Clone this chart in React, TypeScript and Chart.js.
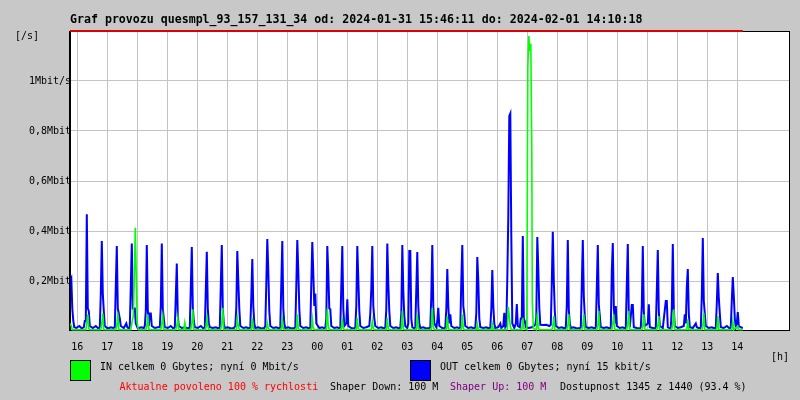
import React, { useEffect, useRef } from 'react';
import { Chart, registerables } from 'chart.js';

Chart.register(...registerables);

// ---------- text ----------
const titleText = 'Graf provozu quesmpl_93_157_131_34 od: 2024-01-31 15:46:11 do: 2024-02-01 14:10:18';
const yUnitLabel = '[/s]';
const xUnitLabel = '[h]';
const inLegendText = 'IN celkem 0 Gbytes; nyní 0 Mbit/s';
const outLegendText = 'OUT celkem 0 Gbytes; nyní 15 kbit/s';
const statusTexts = ['Aktualne povoleno 100 % rychlosti', 'Shaper Down: 100 M', 'Shaper Up: 100 M', 'Dostupnost 1345 z 1440 (93.4 %)'];

// ---------- axes ----------
// x values are minutes since 16:00 (2024-01-31)
const hourLabels = ['16', '17', '18', '19', '20', '21', '22', '23', '00', '01', '02', '03', '04', '05', '06', '07', '08', '09', '10', '11', '12', '13', '14'];
const hourTickMinutes = hourLabels.map((_, i) => i * 60);
const xMinMinute = -14.6;
const xMaxMinute = 1425.4;
const yTickValues = [0, 0.2, 0.4, 0.6, 0.8, 1.0, 1.2];
const yTickLabels = ['', '0,2Mbit', '0,4Mbit', '0,6Mbit', '0,8Mbit', '1Mbit/s', ''];
const yMaxMbit = 1.2;

// ---------- data (minute, Mbit/s) ----------
const outSamples: [number, number][] = [
  [-14, 0.2], [-12, 0.21], [-10, 0.09], [-8, 0.04], [-6, 0.015], [-2, 0.012], [4, 0.02], [9, 0.01], [13, 0.015],
  [15, 0.04], [17, 0.04], [19, 0.467], [21, 0.09], [23, 0.08], [25, 0.02], [31, 0.012], [37, 0.02], [42, 0.01],
  [45, 0.015], [47, 0.15], [49, 0.36], [51, 0.15], [53, 0.08], [55, 0.02], [61, 0.01], [67, 0.015], [72, 0.012],
  [75, 0.015], [77, 0.18], [79, 0.34], [81, 0.09], [83, 0.07], [85, 0.05], [87, 0.02], [93, 0.012], [98, 0.03], [100, 0.015], [103, 0.01],
  [105, 0.02], [107, 0.18], [109, 0.35], [111, 0.09], [113, 0.09], [115, 0.09], [117, 0.03], [121, 0.01], [127, 0.015], [133, 0.012],
  [135, 0.02], [137, 0.08], [139, 0.344], [141, 0.087], [143, 0.02], [145, 0.07], [147, 0.07], [149, 0.02], [155, 0.012], [161, 0.015],
  [165, 0.015], [167, 0.1], [169, 0.35], [171, 0.09], [173, 0.05], [175, 0.015], [181, 0.012], [187, 0.02], [192, 0.01],
  [195, 0.015], [197, 0.14], [199, 0.27], [201, 0.06], [203, 0.02], [209, 0.012], [215, 0.015], [222, 0.01],
  [225, 0.015], [227, 0.176], [229, 0.336], [231, 0.093], [233, 0.04], [235, 0.015], [241, 0.012], [247, 0.02], [252, 0.01],
  [255, 0.015], [257, 0.164], [259, 0.317], [261, 0.09], [263, 0.03], [265, 0.015], [271, 0.012], [277, 0.015], [283, 0.01],
  [285, 0.015], [287, 0.184], [289, 0.344], [291, 0.09], [293, 0.03], [295, 0.012], [301, 0.015], [307, 0.01], [313, 0.012],
  [316, 0.02], [318, 0.093], [320, 0.32], [322, 0.2], [324, 0.09], [326, 0.02], [332, 0.012], [338, 0.015], [344, 0.01],
  [346, 0.015], [348, 0.136], [350, 0.288], [352, 0.1], [354, 0.03], [356, 0.012], [362, 0.015], [368, 0.01], [374, 0.012],
  [376, 0.02], [378, 0.19], [380, 0.368], [382, 0.24], [384, 0.08], [386, 0.02], [392, 0.012], [398, 0.015], [404, 0.01],
  [406, 0.015], [408, 0.19], [410, 0.36], [412, 0.09], [414, 0.03], [416, 0.012], [422, 0.015], [428, 0.01], [434, 0.012],
  [436, 0.015], [438, 0.18], [440, 0.364], [442, 0.24], [444, 0.09], [446, 0.02], [452, 0.012], [458, 0.015], [464, 0.01],
  [466, 0.015], [468, 0.19], [470, 0.356], [472, 0.23], [474, 0.1], [476, 0.15], [478, 0.03], [484, 0.012], [490, 0.015], [494, 0.01],
  [496, 0.015], [498, 0.05], [500, 0.34], [502, 0.23], [504, 0.09], [506, 0.087], [508, 0.02], [514, 0.012], [520, 0.015], [524, 0.01],
  [526, 0.015], [528, 0.18], [530, 0.34], [532, 0.09], [534, 0.02], [538, 0.03], [540, 0.127], [542, 0.02], [548, 0.012], [554, 0.01],
  [556, 0.015], [558, 0.1], [560, 0.34], [562, 0.21], [564, 0.08], [566, 0.02], [572, 0.012], [578, 0.015], [584, 0.02], [586, 0.07],
  [588, 0.17], [590, 0.34], [592, 0.1], [594, 0.05], [596, 0.02], [602, 0.012], [608, 0.015], [614, 0.01],
  [616, 0.015], [618, 0.087], [620, 0.35], [622, 0.19], [624, 0.08], [626, 0.02], [632, 0.012], [638, 0.015], [644, 0.01],
  [646, 0.015], [648, 0.07], [650, 0.344], [652, 0.16], [654, 0.06], [656, 0.02], [660, 0.012], [662, 0.03], [664, 0.32], [666, 0.32], [668, 0.05], [670, 0.015], [674, 0.01],
  [676, 0.015], [678, 0.167], [680, 0.316], [682, 0.1], [684, 0.03], [686, 0.012], [692, 0.015], [698, 0.01], [704, 0.012],
  [706, 0.015], [708, 0.14], [710, 0.344], [712, 0.1], [714, 0.03], [718, 0.015], [720, 0.04], [722, 0.093], [724, 0.02], [730, 0.012], [734, 0.01],
  [736, 0.015], [738, 0.087], [740, 0.248], [742, 0.1], [744, 0.03], [746, 0.067], [748, 0.02], [754, 0.012], [760, 0.015], [764, 0.01],
  [766, 0.015], [768, 0.2], [770, 0.344], [772, 0.1], [774, 0.067], [776, 0.02], [782, 0.012], [788, 0.015], [794, 0.01],
  [796, 0.015], [798, 0.07], [800, 0.296], [802, 0.2], [804, 0.05], [806, 0.015], [812, 0.012], [818, 0.015], [824, 0.01],
  [826, 0.015], [828, 0.087], [830, 0.244], [832, 0.1], [834, 0.03], [836, 0.012], [842, 0.015], [846, 0.03], [848, 0.012], [852, 0.02], [854, 0.073], [856, 0.015],
  [858, 0.02], [860, 0.21], [862, 0.46], [864, 0.86], [866, 0.87], [868, 0.38], [870, 0.03], [874, 0.012], [877, 0.03], [879, 0.108], [881, 0.02],
  [885, 0.015], [887, 0.05], [889, 0.05], [891, 0.38], [893, 0.05], [895, 0.04], [897, 0.015], [903, 0.012], [909, 0.015], [913, 0.02],
  [916, 0.025], [918, 0.05], [920, 0.376], [922, 0.247], [924, 0.093], [926, 0.025], [932, 0.024], [938, 0.025], [944, 0.02],
  [947, 0.025], [949, 0.193], [951, 0.397], [953, 0.2], [955, 0.08], [957, 0.02], [963, 0.012], [969, 0.015], [975, 0.01],
  [977, 0.015], [979, 0.104], [981, 0.364], [983, 0.087], [985, 0.03], [987, 0.012], [993, 0.015], [999, 0.01], [1005, 0.012],
  [1007, 0.015], [1009, 0.184], [1011, 0.364], [1013, 0.14], [1015, 0.06], [1017, 0.015], [1023, 0.012], [1029, 0.015], [1035, 0.01],
  [1037, 0.015], [1039, 0.173], [1041, 0.344], [1043, 0.107], [1045, 0.06], [1047, 0.015], [1053, 0.012], [1059, 0.015], [1065, 0.01],
  [1067, 0.015], [1069, 0.24], [1071, 0.352], [1073, 0.1], [1075, 0.03], [1077, 0.1], [1079, 0.02], [1085, 0.012], [1091, 0.015], [1095, 0.01],
  [1097, 0.015], [1099, 0.187], [1101, 0.348], [1103, 0.067], [1105, 0.015], [1109, 0.104], [1111, 0.104], [1113, 0.015], [1119, 0.012], [1125, 0.01],
  [1127, 0.015], [1129, 0.1], [1131, 0.34], [1133, 0.08], [1135, 0.02], [1141, 0.03], [1143, 0.107], [1145, 0.015], [1151, 0.012], [1155, 0.01],
  [1157, 0.015], [1159, 0.16], [1161, 0.324], [1163, 0.08], [1165, 0.02], [1171, 0.012], [1177, 0.12], [1179, 0.12], [1181, 0.015], [1185, 0.01],
  [1187, 0.015], [1189, 0.09], [1191, 0.348], [1193, 0.087], [1195, 0.02], [1201, 0.012], [1207, 0.015], [1213, 0.02], [1215, 0.067],
  [1217, 0.03], [1219, 0.176], [1221, 0.248], [1223, 0.07], [1225, 0.015], [1231, 0.012], [1237, 0.03], [1239, 0.015], [1245, 0.01],
  [1247, 0.015], [1249, 0.14], [1251, 0.372], [1253, 0.12], [1255, 0.07], [1257, 0.02], [1263, 0.012], [1269, 0.015], [1275, 0.01],
  [1277, 0.015], [1279, 0.11], [1281, 0.232], [1283, 0.133], [1285, 0.07], [1287, 0.015], [1293, 0.012], [1299, 0.02], [1305, 0.01],
  [1307, 0.015], [1309, 0.12], [1311, 0.216], [1313, 0.14], [1315, 0.05], [1317, 0.015], [1319, 0.03], [1321, 0.076], [1323, 0.02], [1327, 0.015], [1331, 0.012],
];

const inSamples: [number, number][] = [
  [-14, 0.03], [-12, 0.02], [-10, 0.005],
  [17, 0.005], [19, 0.03], [21, 0.067], [23, 0.01], [25, 0.005],
  [47, 0.005], [49, 0.03], [51, 0.07], [53, 0.005],
  [77, 0.005], [79, 0.02], [81, 0.073], [83, 0.005],
  [107, 0.005], [109, 0.03], [112, 0.06], [114, 0.21], [116, 0.413], [118, 0.21], [120, 0.03], [122, 0.005],
  [137, 0.005], [139, 0.02], [141, 0.067], [143, 0.005],
  [167, 0.005], [169, 0.03], [171, 0.06], [173, 0.005],
  [197, 0.005], [199, 0.02], [201, 0.053], [203, 0.005], [213, 0.005], [215, 0.033], [217, 0.005],
  [227, 0.005], [229, 0.03], [231, 0.087], [233, 0.005],
  [257, 0.005], [259, 0.053], [261, 0.02], [263, 0.005],
  [287, 0.005], [289, 0.03], [291, 0.093], [293, 0.005],
  [318, 0.005], [320, 0.053], [322, 0.02], [324, 0.005],
  [348, 0.005], [350, 0.053], [352, 0.01], [354, 0.005],
  [378, 0.005], [380, 0.033], [382, 0.01], [384, 0.005],
  [408, 0.005], [410, 0.047], [412, 0.01], [414, 0.005],
  [438, 0.005], [440, 0.067], [442, 0.01], [444, 0.005],
  [468, 0.005], [470, 0.047], [472, 0.01], [474, 0.005],
  [498, 0.005], [500, 0.09], [502, 0.02], [504, 0.005],
  [528, 0.005], [530, 0.053], [532, 0.01], [534, 0.005],
  [558, 0.005], [560, 0.053], [562, 0.01], [564, 0.005],
  [588, 0.005], [590, 0.04], [592, 0.01], [594, 0.005],
  [618, 0.005], [620, 0.053], [622, 0.01], [624, 0.005],
  [648, 0.005], [650, 0.08], [652, 0.01], [654, 0.005],
  [678, 0.005], [680, 0.067], [682, 0.01], [684, 0.005],
  [708, 0.005], [710, 0.093], [712, 0.02], [714, 0.005],
  [738, 0.005], [740, 0.06], [742, 0.01], [744, 0.005],
  [768, 0.005], [770, 0.067], [772, 0.01], [774, 0.005],
  [798, 0.005], [800, 0.027], [802, 0.005],
  [828, 0.005], [830, 0.027], [832, 0.005],
  [860, 0.005], [862, 0.096], [864, 0.06], [866, 0.02], [868, 0.005],
  [889, 0.005], [891, 0.053], [893, 0.01], [899, 0.005], [901, 1.05], [903, 1.18], [905, 1.12], [907, 1.15], [909, 0.72], [910, 0.12], [912, 0.01],
  [918, 0.005], [920, 0.073], [922, 0.01], [924, 0.005],
  [949, 0.005], [951, 0.02], [953, 0.06], [955, 0.005],
  [979, 0.005], [981, 0.02], [983, 0.067], [985, 0.005],
  [1009, 0.005], [1011, 0.02], [1013, 0.067], [1015, 0.005],
  [1039, 0.005], [1041, 0.02], [1043, 0.08], [1045, 0.005],
  [1069, 0.005], [1071, 0.03], [1073, 0.067], [1075, 0.005],
  [1099, 0.005], [1101, 0.03], [1103, 0.08], [1105, 0.005],
  [1129, 0.005], [1131, 0.02], [1133, 0.067], [1135, 0.005],
  [1159, 0.005], [1161, 0.02], [1163, 0.06], [1165, 0.005],
  [1189, 0.005], [1191, 0.03], [1193, 0.087], [1195, 0.005],
  [1219, 0.005], [1221, 0.047], [1223, 0.005],
  [1249, 0.005], [1251, 0.02], [1253, 0.073], [1255, 0.005],
  [1279, 0.005], [1281, 0.06], [1283, 0.005],
  [1309, 0.005], [1311, 0.04], [1313, 0.005], [1321, 0.02], [1323, 0.005], [1331, 0.005],
];

// allowed-speed line (clamped to the top of the scale)
const limitSamples: [number, number][] = [[-14.6, 1.2], [1331, 1.2]];

const MONO = '"DejaVu Sans Mono", "Liberation Mono", monospace';

const decorPlugin = {
  id: 'mrtgDecor',
  beforeDraw(chart: any) {
    const { ctx, chartArea: a, width, height } = chart;
    ctx.save();
    ctx.fillStyle = '#c8c8c8';
    ctx.fillRect(0, 0, width, height);
    ctx.fillStyle = '#ffffff';
    ctx.fillRect(a.left, a.top, a.right - a.left, a.bottom - a.top);
    ctx.restore();
  },
  beforeDatasetsDraw(chart: any) {
    const { ctx, chartArea: a } = chart;
    ctx.save();
    ctx.strokeStyle = '#000000';
    ctx.lineWidth = 1;
    ctx.beginPath();
    ctx.moveTo(a.left, a.top + 0.5);
    ctx.lineTo(a.right, a.top + 0.5);
    ctx.moveTo(a.right - 0.5, a.top);
    ctx.lineTo(a.right - 0.5, a.bottom);
    ctx.moveTo(a.left, a.bottom - 0.5);
    ctx.lineTo(a.right, a.bottom - 0.5);
    ctx.stroke();
    ctx.lineWidth = 2;
    ctx.beginPath();
    ctx.moveTo(a.left, a.top);
    ctx.lineTo(a.left, a.bottom);
    ctx.stroke();
    ctx.restore();
  },
  afterDraw(chart: any) {
    const { ctx } = chart;
    ctx.save();
    ctx.fillStyle = '#000000';
    ctx.textBaseline = 'alphabetic';
    ctx.textAlign = 'left';
    ctx.font = `bold 11.6px ${MONO}`;
    ctx.fillText(titleText, 70, 23);

    ctx.font = `10px ${MONO}`;
    ctx.textBaseline = 'middle';
    ctx.fillText(yUnitLabel, 15, 36.5);
    ctx.fillText(xUnitLabel, 771, 357);

    // legend boxes
    ctx.lineWidth = 1;
    ctx.strokeStyle = '#000000';
    ctx.fillStyle = '#00ff00';
    ctx.fillRect(70.5, 360.5, 20, 20);
    ctx.strokeRect(70.5, 360.5, 20, 20);
    ctx.fillStyle = '#0000ff';
    ctx.fillRect(410.5, 360.5, 20, 20);
    ctx.strokeRect(410.5, 360.5, 20, 20);

    ctx.fillStyle = '#000000';
    ctx.fillText(inLegendText, 100, 367.5);
    ctx.fillText(outLegendText, 440, 367.5);

    const statusColors = ['#ff0000', '#000000', '#800080', '#000000'];
    const statusX = [119.5, 330, 450, 560];
    statusTexts.forEach((t, i) => {
      ctx.fillStyle = statusColors[i];
      ctx.fillText(t, statusX[i], 387.5);
    });
    ctx.restore();
  },
};

export default function App() {
  const canvasRef = useRef<HTMLCanvasElement | null>(null);

  useEffect(() => {
    document.body.style.margin = '0';
    const canvas = canvasRef.current;
    if (!canvas) return;
    const toPts = (arr: [number, number][]) => arr.map(([x, y]) => ({ x, y }));
    const chart = new Chart(canvas, {
      type: 'line',
      data: {
        datasets: [
          {
            label: 'limit',
            data: toPts(limitSamples),
            borderColor: '#dd0000',
            borderWidth: 2,
            pointRadius: 0,
            tension: 0,
            order: -1,
            clip: false,
          } as any,
          {
            label: 'IN',
            data: toPts(inSamples),
            borderColor: '#00ff00',
            borderWidth: 1.6,
            pointRadius: 0,
            tension: 0,
            order: 0,
          },
          {
            label: 'OUT',
            data: toPts(outSamples),
            borderColor: '#0000ff',
            borderWidth: 2,
            pointRadius: 0,
            tension: 0,
            order: 1,
          },
        ],
      },
      options: {
        responsive: false,
        animation: false,
        devicePixelRatio: 1,
        events: [],
        layout: { padding: { left: 29, top: 31, right: 10, bottom: 49 } },
        plugins: {
          legend: { display: false },
          tooltip: { enabled: false },
          title: { display: false },
        },
        scales: {
          x: {
            type: 'linear',
            min: xMinMinute,
            max: xMaxMinute,
            afterBuildTicks: (s: any) => {
              s.ticks = hourTickMinutes.map((v) => ({ value: v }));
            },
            afterFit: (s: any) => {
              s.height = 20;
            },
            grid: { color: '#c4c4c4', lineWidth: 1, drawTicks: false },
            border: { display: false },
            ticks: {
              padding: 10,
              color: '#000000',
              autoSkip: false,
              maxRotation: 0,
              font: { family: MONO, size: 10 },
              callback: (_v: any, i: number) => hourLabels[i],
            },
          },
          y: {
            type: 'linear',
            min: 0,
            max: yMaxMbit,
            afterBuildTicks: (s: any) => {
              s.ticks = yTickValues.map((v) => ({ value: v }));
            },
            afterFit: (s: any) => {
              s.width = 41;
            },
            grid: { color: '#c4c4c4', lineWidth: 1, drawTicks: false },
            border: { display: false },
            ticks: {
              crossAlign: 'far',
              padding: 0,
              color: '#000000',
              font: { family: MONO, size: 10 },
              callback: (_v: any, i: number) => yTickLabels[i],
            },
          },
        },
      } as any,
      plugins: [decorPlugin],
    });
    return () => chart.destroy();
  }, []);

  return (
    <div style={{ width: 800, height: 400 }}>
      <canvas ref={canvasRef} width={800} height={400} style={{ display: 'block' }} />
    </div>
  );
}
